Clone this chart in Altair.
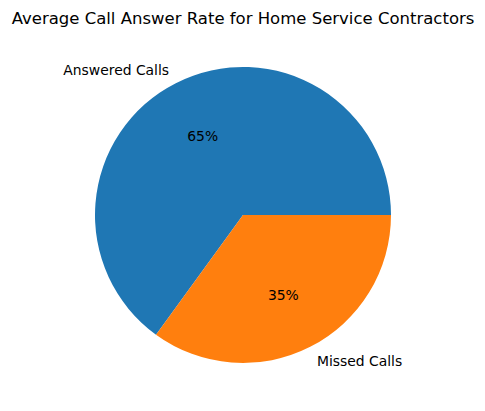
import altair as alt
import pandas as pd
import math

categories = ["Answered Calls", "Missed Calls"]
values = [65, 35]
colors = ["#1f77b4", "#ff7f0e"]
title_text = "Average Call Answer Rate for Home Service Contractors"

df = pd.DataFrame({"category": categories, "value": values})

W, H = 469, 395
CX, CY = 235, 207
R = 148

theta_scale = alt.Scale(domain=[0, 100], range=[math.pi / 2, math.pi / 2 + 2 * math.pi])

base = alt.Chart(df).transform_stack(
    stack="value", groupby=[], as_=["v0", "v1"],
    sort=[alt.SortField("category", order="descending")]
).transform_calculate(
    mid="(datum.v0 + datum.v1) / 2",
    pct="format(datum.value, 'd') + '%'"
)

arcs = base.mark_arc(radius=R).encode(
    theta=alt.Theta("v0:Q", scale=theta_scale),
    theta2="v1:Q",
    color=alt.Color("category:N", scale=alt.Scale(domain=categories, range=colors), legend=None),
    x=alt.value(CX), y=alt.value(CY),
)

font = "DejaVu Sans"

pct = base.mark_text(radius=R * 0.6, font=font, fontSize=13.9, baseline="middle", align="center", color="black", dy=1.5).encode(
    theta=alt.Theta("mid:Q", scale=theta_scale),
    text="pct:N",
    x=alt.value(CX), y=alt.value(CY),
)

lab_left = base.transform_filter(alt.datum.category == categories[0]).mark_text(
    radius=R * 1.1, font=font, fontSize=13.9, baseline="middle", align="right", color="black", dy=1.5).encode(
    theta=alt.Theta("mid:Q", scale=theta_scale),
    text="category:N",
    x=alt.value(CX), y=alt.value(CY),
)

lab_right = base.transform_filter(alt.datum.category == categories[1]).mark_text(
    radius=R * 1.1, font=font, fontSize=13.9, baseline="middle", align="left", color="black", dy=1.5).encode(
    theta=alt.Theta("mid:Q", scale=theta_scale),
    text="category:N",
    x=alt.value(CX), y=alt.value(CY),
)

title = alt.Chart(pd.DataFrame({"t": [title_text]})).mark_text(
    font=font, fontSize=16.5, align="center", baseline="alphabetic", color="black").encode(
    text="t:N", x=alt.value(CX), y=alt.value(16),
)

chart = alt.layer(arcs, pct, lab_left, lab_right, title).resolve_scale(theta="shared").properties(
    width=W, height=H, autosize=alt.AutoSizeParams(type="none"), padding=0, background="white"
).configure_view(stroke=None, strokeWidth=0)

chart.save("out.html", embed_options={"renderer": "svg", "actions": False})
